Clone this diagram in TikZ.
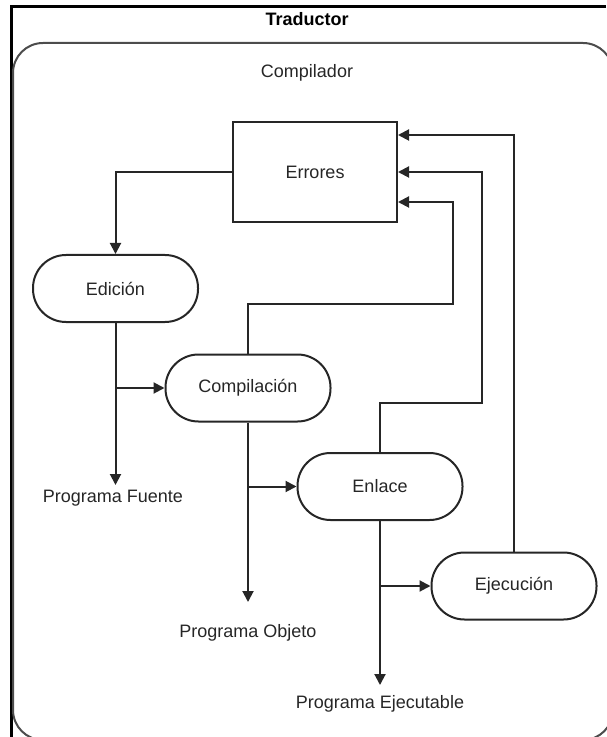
\documentclass[tikz,border=0pt]{standalone}
\usepackage{fontspec}
\setmainfont{Liberation Sans}
\usetikzlibrary{arrows.meta}
\begin{document}
\begin{tikzpicture}[x=0.5pt,y=-0.5pt,
  line width=1pt,
  ln/.style={draw=black!85},
  arr/.style={-{Triangle[length=5.5pt,width=5.5pt]}},
  txt/.style={font=\fontsize{9}{11}\selectfont, text=black!85},
  proc/.style={txt, draw=black!85, rounded corners=16.5pt, minimum width=82.5pt, minimum height=33.5pt, inner sep=0pt},
  errbox/.style={txt, draw=black!85, minimum width=82pt, minimum height=50pt, inner sep=0pt},
  lbl/.style={txt, inner sep=0pt},
]
\useasboundingbox (0,0) rectangle (606,737);
% outer frame (Traductor)
\draw[black, line width=1.5pt] (606,7) -- (11,7) -- (11,737);
% inner rounded frame (Compilador)
\draw[black!70, line width=1pt, rounded corners=15pt] (13,43) rectangle (613,740);

\node[lbl, font=\fontsize{9}{11}\selectfont\bfseries, text=black] (trad) at (307,19) {Traductor};
\node[lbl] (comp) at (307,73) {Compilador};

\node[errbox] (err) at (315,172) {Errores};
\node[proc] (edi) at (115.5,288.5) {Edición};
\node[proc] (cpl) at (248,388) {Compilación};
\node[proc] (enl) at (380,486.5) {Enlace};
\node[proc] (eje) at (514,586) {Ejecución};

\node[lbl] (pf) at (113,498) {Programa Fuente};
\node[lbl] (po) at (248,633) {Programa Objeto};
\node[lbl] (pe) at (380,704) {Programa Ejecutable};

\coordinate (pfT) at (115.5,485);
\coordinate (poT) at (248,602);
\coordinate (peT) at (380,685);

% main flow
\draw[ln,arr] (err.west) -| (edi.north);
\draw[ln,arr] (edi.south) -- (pfT);
\draw[ln,arr] (edi.south |- cpl.west) -- (cpl.west);
\draw[ln,arr] (cpl.south) -- (poT);
\draw[ln,arr] (cpl.south |- enl.west) -- (enl.west);
\draw[ln,arr] (enl.south) -- (peT);
\draw[ln,arr] (enl.south |- eje.west) -- (eje.west);

% feedback to Errores
\draw[ln,arr] (cpl.north) |- (453,304) |- ([yshift=-15pt]err.east);
\draw[ln,arr] (enl.north) |- (482,403) |- (err.east);
\draw[ln,arr] (eje.north) |- ([yshift=18.5pt]err.east);
\end{tikzpicture}
\end{document}
